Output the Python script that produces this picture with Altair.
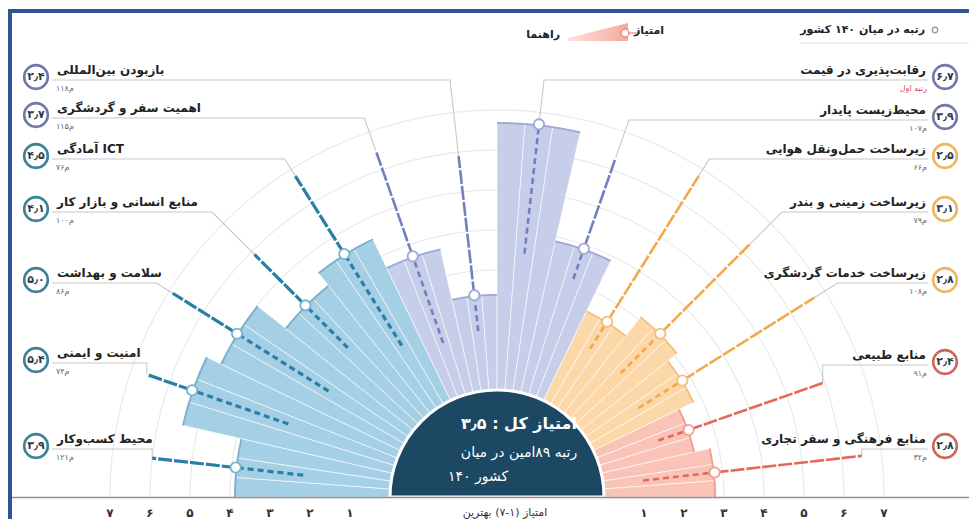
import math
import altair as alt
import pandas as pd

# ---------------- data ----------------
pillars = ["محیط کسب‌وکار", "امنیت و ایمنی", "سلامت و بهداشت", "منابع انسانی و بازار کار",
           "آمادگی ICT", "اهمیت سفر و گردشگری", "بازبودن بین‌المللی", "رقابت‌پذیری در قیمت",
           "محیط‌زیست پایدار", "زیرساخت حمل‌ونقل هوایی", "زیرساخت زمینی و بندر",
           "زیرساخت خدمات گردشگری", "منابع طبیعی", "منابع فرهنگی و سفر تجاری"]
scores = [3.9, 5.4, 5.0, 4.1, 4.5, 3.7, 2.4, 6.7, 3.9, 2.5, 3.1, 2.8, 2.4, 2.8]
score_text = ["۳٫۹", "۵٫۴", "۵٫۰", "۴٫۱", "۴٫۵", "۳٫۷", "۲٫۴", "۶٫۷", "۳٫۹", "۲٫۵", "۳٫۱", "۲٫۸", "۲٫۴", "۲٫۸"]
ranks = ["۱۲۱م", "۷۴م", "۸۶م", "۱۰۰م", "۷۶م", "۱۱۵م", "۱۱۸م", "رتبه اول", "۱۰۷م", "۶۶م",
         "۷۹م", "۱۰۸م", "۹۱م", "۳۲م"]
groups = ["blue"] * 5 + ["purple"] * 4 + ["orange"] * 3 + ["red"] * 2
ind_low = [2.2, 2.85, 2.3, 2.6, 1.8, 1.4, 1.5, 3.45, 3.1, 1.7, 1.7, 1.5, 1.6, 1.0]
ind_high = [6.0, 6.6, 6.9, 5.9, 6.8, 6.5, 5.9, 6.7, 6.3, 6.8, 6.25, 6.7, 5.95, 6.5]
tick_values = [1, 2, 3, 4, 5, 6, 7]
tick_text = ["۱", "۲", "۳", "۴", "۵", "۶", "۷"]
grid_values = [1, 2, 3, 4, 5, 6, 7]
overall_title = "امتیاز کل : ۳٫۵"
overall_rank = ["رتبه ۸۹امین در میان", "۱۴۰ کشور"]
axis_title = "امتیاز (۱-۷) بهترین"
legend_rank = "رتبه در میان ۱۴۰ کشور"
legend_score = "امتیاز"
legend_guide = "راهنما"

# ---------------- layout / style ----------------
W, H = 961, 511
CX, CY = 497, 497
R0, K = 107, 40
N = len(pillars)
FONT = "DejaVu Sans"
line_y = [449, 363, 283, 212, 159, 118, 80, 80, 120, 159, 212, 283, 365, 449]
LEFT_X, RIGHT_X = 52, 928
palette = {
    "blue": {"bar": "#a4cfe5", "edge": "#7db0cb", "line": "#2b7fa7", "badge": "#3e8298", "w": 3.2},
    "purple": {"bar": "#c7cee9", "edge": "#9ea8d4", "line": "#7380c0", "badge": "#7079aa", "w": 2.6},
    "orange": {"bar": "#fcd7a8", "edge": "#f2bf80", "line": "#f0a94e", "badge": "#eeb563", "w": 2.6},
    "red": {"bar": "#f9c3b8", "edge": "#ef9f92", "line": "#e4695c", "badge": "#cf675c", "w": 2.6},
}

XS = alt.Scale(domain=[8, 8 + W], nice=False, zero=False)
YS = alt.Scale(domain=[8, 8 + H], nice=False, zero=False, reverse=True)
TS = alt.Scale(domain=[0, N], range=[-math.pi / 2, math.pi / 2])
RS = alt.Scale(type="linear", domain=[0, 7], range=[R0, R0 + 7 * K])


def ex(f):
    return alt.X(f, type="quantitative", scale=XS, axis=None)


def ey(f):
    return alt.Y(f, type="quantitative", scale=YS, axis=None)


def dx(v):
    return alt.XDatum(v, scale=XS, type="quantitative", axis=None)


def dy(v):
    return alt.YDatum(v, scale=YS, type="quantitative", axis=None)


def ang(i):
    return math.pi - (i + 0.5) * math.pi / N


def polar(i, v):
    a = ang(i)
    r = R0 + K * v
    return CX + r * math.cos(a), CY - r * math.sin(a)


# ---------------- tables ----------------
grid_df = pd.DataFrame({"v": [g + 0.014 for g in grid_values], "v2": [g - 0.014 for g in grid_values]})

bar_rows, edge_rows = [], []
for i in range(N):
    for s in range(3):
        bar_rows.append(dict(t0=i + s / 3, t1=i + (s + 1) / 3, v=scores[i], c=palette[groups[i]]["bar"]))
    edge_rows.append(dict(t0=i, t1=i + 1, v=scores[i], v2=scores[i] - 0.045, c=palette[groups[i]]["edge"]))
bar_df = pd.DataFrame(bar_rows)
edge_df = pd.DataFrame(edge_rows)

inner_rows, outer_rows, mark_rows, lead_rows = [], [], [], []
for i in range(N):
    col = palette[groups[i]]["line"]
    w = palette[groups[i]]["w"]
    lx, ly = polar(i, ind_low[i])
    vx, vy = polar(i, scores[i])
    hx, hy = polar(i, ind_high[i])
    inner_rows += [dict(p=i, o=0, x=lx, y=ly, c=col, w=w), dict(p=i, o=1, x=vx, y=vy, c=col, w=w)]
    outer_rows += [dict(p=i, o=0, x=vx, y=vy, c=col, w=w), dict(p=i, o=1, x=hx, y=hy, c=col, w=w)]
    mark_rows.append(dict(x=vx, y=vy, c=palette[groups[i]]["edge"]))
    a = ang(i)
    yl = line_y[i]
    if math.sin(a) < 0.4:
        cxn = hx
    else:
        rc = (CY - yl) / math.sin(a)
        cxn = CX + rc * math.cos(a)
    endx = LEFT_X if i < 7 else RIGHT_X
    lead_rows += [dict(p=i, o=0, x=hx, y=hy), dict(p=i, o=1, x=cxn, y=yl), dict(p=i, o=2, x=endx, y=yl)]
inner_df = pd.DataFrame(inner_rows)
outer_df = pd.DataFrame(outer_rows)
mark_df = pd.DataFrame(mark_rows)
lead_df = pd.DataFrame(lead_rows)

left_lab = pd.DataFrame({
    "x": [57] * 7, "y": [line_y[i] - 10 for i in range(7)], "t": [pillars[i] for i in range(7)]})
right_lab = pd.DataFrame({
    "x": [926] * 7, "y": [line_y[i] - 10 for i in range(7, N)], "t": [pillars[i] for i in range(7, N)]})
left_rank = pd.DataFrame({
    "x": [56] * 7, "y": [line_y[i] + 9 for i in range(7)], "t": [ranks[i] for i in range(7)]})
right_rank = pd.DataFrame({
    "x": [927] * 7, "y": [line_y[i] + 9 for i in range(7, N)], "t": [ranks[i] for i in range(7, N)],
    "c": ["#e0454f" if i == 7 else "#666666" for i in range(7, N)]})
badge_df = pd.DataFrame({
    "x": [36 if i < 7 else 945 for i in range(N)],
    "y": [line_y[i] - 3 for i in range(N)],
    "t": score_text,
    "c": [palette[groups[i]]["badge"] for i in range(N)]})

tick_df = pd.DataFrame({
    "x": [CX - (R0 + K * v) for v in tick_values] + [CX + (R0 + K * v) for v in tick_values],
    "y": [513] * 14, "t": tick_text + tick_text})

# ---------------- layers ----------------
theta0 = alt.ThetaDatum(0, scale=TS, type="quantitative")
theta1 = alt.Theta2Datum(N)

grid = alt.Chart(grid_df).mark_arc(color="#e9e9e9").encode(
    x=dx(CX), y=dy(CY), theta=theta0, theta2=theta1,
    radius=alt.Radius("v:Q", scale=RS), radius2="v2:Q")

bars = alt.Chart(bar_df).mark_arc(stroke="white", strokeWidth=0.6).encode(
    x=dx(CX), y=dy(CY),
    theta=alt.Theta("t0:Q", scale=TS, stack=False), theta2="t1:Q",
    radius=alt.Radius("v:Q", scale=RS), radius2=alt.Radius2Datum(0),
    fill=alt.Fill("c:N", scale=None))

edges = alt.Chart(edge_df).mark_arc().encode(
    x=dx(CX), y=dy(CY),
    theta=alt.Theta("t0:Q", scale=TS, stack=False), theta2="t1:Q",
    radius=alt.Radius("v:Q", scale=RS), radius2="v2:Q",
    fill=alt.Fill("c:N", scale=None))

leaders = alt.Chart(lead_df).mark_line(color="#c8c8c8", strokeWidth=1.1).encode(
    x=ex("x"), y=ey("y"), detail="p:N", order="o:Q")

inner = alt.Chart(inner_df).mark_line(strokeDash=[6, 4]).encode(
    x=ex("x"), y=ey("y"), detail="p:N", order="o:Q",
    stroke=alt.Stroke("c:N", scale=None), strokeWidth=alt.StrokeWidth("w:Q", scale=None))

outer = alt.Chart(outer_df).mark_line(strokeDash=[14, 2]).encode(
    x=ex("x"), y=ey("y"), detail="p:N", order="o:Q",
    stroke=alt.Stroke("c:N", scale=None), strokeWidth=alt.StrokeWidth("w:Q", scale=None))

markers = alt.Chart(mark_df).mark_point(shape="circle", filled=True, fill="white", size=105,
                                        strokeWidth=1.8, opacity=1).encode(
    x=ex("x"), y=ey("y"), stroke=alt.Stroke("c:N", scale=None))

# dark disc at the centre: spans the whole half circle with the radius of score 0
center = alt.Chart(pd.DataFrame({"t0": [0], "t1": [N]})).mark_arc(
    fill="#1c4864", stroke="white", strokeWidth=3).encode(
    x=dx(CX), y=dy(CY),
    theta=alt.Theta("t0:Q", scale=TS, stack=False), theta2="t1:Q",
    radius=alt.value(R0))

ctitle = alt.Chart(pd.DataFrame({"x": [519], "y": [424], "t": [overall_title]})).mark_text(
    font=FONT, fontSize=16, fontWeight="bold", color="white", align="center", baseline="middle").encode(
    x=ex("x"), y=ey("y"), text="t:N")
cline2 = alt.Chart(pd.DataFrame({"x": [519], "y": [453], "t": [overall_rank[0]]})).mark_text(
    font=FONT, fontSize=14, color="white", align="center", baseline="middle").encode(
    x=ex("x"), y=ey("y"), text="t:N")
cline3 = alt.Chart(pd.DataFrame({"x": [448], "y": [477], "t": [overall_rank[1]]})).mark_text(
    font=FONT, fontSize=14, color="white", align="left", baseline="middle").encode(
    x=ex("x"), y=ey("y"), text="t:N")

baseline = alt.Chart(pd.DataFrame({"k": [0]})).mark_rule(color="#8f8f8f", strokeWidth=1.6).encode(
    x=dx(12), x2=alt.X2Datum(8 + W), y=dy(497.5))

ticks = alt.Chart(tick_df).mark_text(font=FONT, fontSize=12, fontWeight="bold", color="#333333",
                                     baseline="middle").encode(
    x=ex("x"), y=ey("y"), text="t:N")
atitle = alt.Chart(pd.DataFrame({"x": [505], "y": [513], "t": [axis_title]})).mark_text(
    font=FONT, fontSize=11, color="#333333", baseline="middle").encode(
    x=ex("x"), y=ey("y"), text="t:N")

ltitles = alt.Chart(left_lab).mark_text(font=FONT, fontSize=12, fontWeight="bold", color="#222222",
                                        align="left", baseline="middle").encode(
    x=ex("x"), y=ey("y"), text="t:N")
rtitles = alt.Chart(right_lab).mark_text(font=FONT, fontSize=12, fontWeight="bold", color="#222222",
                                         align="right", baseline="middle").encode(
    x=ex("x"), y=ey("y"), text="t:N")
lranks = alt.Chart(left_rank).mark_text(font=FONT, fontSize=8, color="#666666",
                                        align="left", baseline="middle").encode(
    x=ex("x"), y=ey("y"), text="t:N")
rranks = alt.Chart(right_rank).mark_text(font=FONT, fontSize=8, align="right", baseline="middle").encode(
    x=ex("x"), y=ey("y"), text="t:N", color=alt.Color("c:N", scale=None))

badges = alt.Chart(badge_df).mark_point(shape="circle", filled=True, fill="white", size=560,
                                        strokeWidth=2.6, opacity=1).encode(
    x=ex("x"), y=ey("y"), stroke=alt.Stroke("c:N", scale=None))
badge_txt = alt.Chart(badge_df).mark_text(font=FONT, fontSize=11, fontWeight="bold", color="#2d3a4a",
                                          baseline="middle").encode(
    x=ex("x"), y=ey("y"), text="t:N")

# legend
leg_text = pd.DataFrame({"x": [925, 664, 560], "y": [30, 31, 35], "t": [legend_rank, legend_score, legend_guide]})
legend_txt = alt.Chart(leg_text).mark_text(font=FONT, fontSize=11, fontWeight="bold", color="#222222",
                                           align="right", baseline="middle").encode(
    x=ex("x"), y=ey("y"), text="t:N")
leg_area = alt.Chart(pd.DataFrame({"x": [568, 628], "y": [41, 41], "y2": [38, 23]})).mark_area(
    color=alt.Gradient(gradient="linear", stops=[alt.GradientStop(color="#fde3dd", offset=0),
                                                  alt.GradientStop(color="#f5a99b", offset=1)],
                       x1=0, x2=1, y1=0, y2=0)).encode(
    x=ex("x"), y=ey("y"), y2="y2:Q")
leg_rule = alt.Chart(pd.DataFrame({"k": [0]})).mark_rule(color="#f0a090", strokeWidth=1.5).encode(
    x=dx(625), x2=alt.X2Datum(640), y=dy(33))
leg_pts = alt.Chart(pd.DataFrame({"x": [625, 935], "y": [33, 30], "s": [60, 30],
                                  "c": ["#e88a7a", "#9a9a9a"]})).mark_point(
    shape="circle", filled=True, fill="white", strokeWidth=1.3, opacity=1).encode(
    x=ex("x"), y=ey("y"), size=alt.Size("s:Q", scale=None), stroke=alt.Stroke("c:N", scale=None))
leg_line = alt.Chart(pd.DataFrame({"k": [0]})).mark_rule(color="#e2e2e2", strokeWidth=1).encode(
    x=dx(800), x2=alt.X2Datum(8 + W), y=dy(43))

# frame
frame_left = alt.Chart(pd.DataFrame({"k": [0]})).mark_rule(color="#2f5597", strokeWidth=4).encode(
    x=dx(10), y=dy(9), y2=alt.Y2Datum(8 + H))
frame_top = alt.Chart(pd.DataFrame({"k": [0]})).mark_rule(color="#2f5597", strokeWidth=4).encode(
    x=dx(8), x2=alt.X2Datum(8 + W), y=dy(11))

chart = alt.layer(
    grid, bars, edges, leaders, inner, outer, markers, center, ctitle, cline2, cline3,
    baseline, ticks, atitle, ltitles, rtitles, lranks, rranks, badges, badge_txt,
    leg_area, leg_rule, leg_pts, legend_txt, leg_line, frame_left, frame_top
).properties(width=W, height=H, padding=0, autosize="none", background="white").configure_view(stroke=None)

chart.save("out.html", embed_options={"renderer": "svg", "actions": False})
